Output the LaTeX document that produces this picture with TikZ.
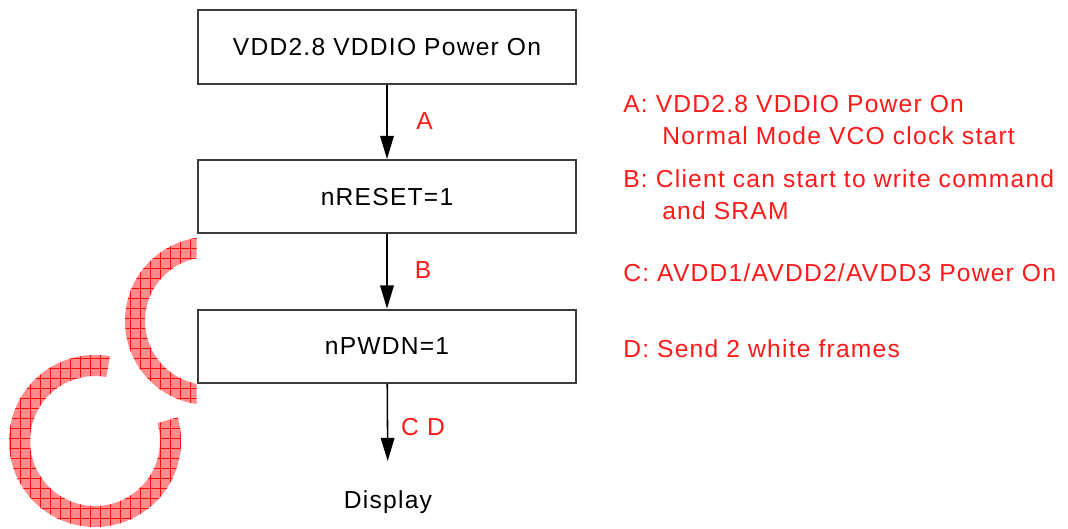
\documentclass[tikz,border=0pt]{standalone}
\usepackage{fontspec}
\setmainfont{Liberation Sans}[LetterSpace=5]
\usetikzlibrary{arrows.meta,positioning}
\definecolor{noteRed}{RGB}{255,25,25}
\definecolor{boxLine}{HTML}{3C3C3C}
\definecolor{markFill}{RGB}{255,140,140}
\definecolor{markLine}{RGB}{255,10,10}
\tikzset{
    stepbox/.style={
        rectangle,
        draw=boxLine,
        line width=1.4pt,
        minimum width=9.45cm,
        minimum height=1.83cm,
        font=\fontsize{17.5}{21}\selectfont,
        inner sep=0pt
    },
    flow/.style={-{Triangle[length=0.58cm,width=0.34cm]}, line width=1.1pt, black},
    note/.style={anchor=base west, inner sep=0pt, text=noteRed, font=\fontsize{17.5}{21}\selectfont},
    tag/.style={inner sep=0pt, text=noteRed, font=\fontsize{17.5}{21}\selectfont}
}
\begin{document}
\begin{tikzpicture}[x=0.025cm, y=0.025cm, node distance=1.86cm]
\useasboundingbox (0,0) rectangle (1068,528);

% Hatched "CC" mark on the left
\begin{scope}
    \clip (95,87) ++(80:86) arc[start angle=80, end angle=376, radius=86]
        -- ++(196:21) arc[start angle=376, end angle=80, radius=65] -- cycle;
    \fill[markFill] (0,0) rectangle (200,200);
    \draw[markLine, line width=0.5pt, step=10] (0,0) grid (200,200);
\end{scope}
\begin{scope}
    \clip (0,0) rectangle (196.5,528);
    \clip (209,207) ++(40:84) arc[start angle=40, end angle=320, radius=84]
        -- ++(140:20) arc[start angle=320, end angle=40, radius=64] -- cycle;
    \fill[markFill] (100,100) rectangle (300,300);
    \draw[markLine, line width=0.5pt, step=10] (100,100) grid (300,300);
\end{scope}

% Power-up sequence
\node[stepbox] (pwr) at (387,481) {VDD2.8 VDDIO Power On};
\node[stepbox, below=of pwr] (rst) {nRESET=1};
\node[stepbox, below=of rst] (pwdn) {nPWDN=1};
\node[anchor=base, inner sep=0pt, font=\fontsize{17.5}{21}\selectfont] (disp) at (388,20) {Display};

\draw[flow] (pwr) -- (rst);
\draw[flow] (rst) -- (pwdn);
\draw[flow, shorten >=0.72cm] (pwdn) -- (disp);

\node[tag] (tA) at (424.5,406.5) {A};
\node[tag] (tB) at (423,258) {B};
\node[tag] (tCD) at (423,101) {C D};

% Notes
\node[note] (nA) at (623,415) {A: VDD2.8 VDDIO Power On};
\node[note] (nA2) at (662,383) {Normal Mode VCO clock start};
\node[note] (nB) at (623,340) {B: Client can start to write command};
\node[note] (nB2) at (662,308) {and SRAM};
\node[note] (nC) at (623,246) {C: AVDD1/AVDD2/AVDD3 Power On};
\node[note] (nD) at (623,171) {D: Send 2 white frames};
\end{tikzpicture}
\end{document}
